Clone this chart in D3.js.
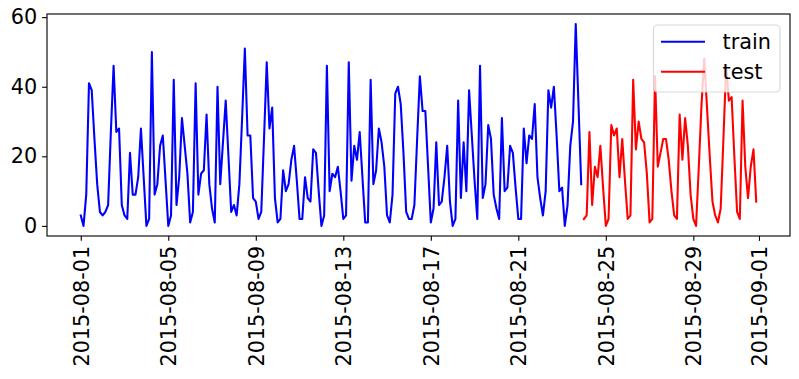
<!DOCTYPE html>
<html>
<head>
<meta charset="utf-8">
<script src="https://cdn.jsdelivr.net/npm/d3@7"></script>
<style>
  html, body { margin: 0; padding: 0; background: #fff; }
  svg { display: block; font-family: "DejaVu Sans", sans-serif; }
</style>
</head>
<body>
<svg id="chart" width="799" height="379"></svg>
<script>
// ---- data (3-hourly samples starting 2015-08-01 00:00) ----
const startDate = "2015-08-01T00:00:00Z";
const stepHours = 3;
const trainValues = [
  3,0,9,41,39,25,12,4, 3,4,6,27,46,27,28,6, 3,2,21,9,9,14,28,14,
  0,2,50,9,12,23,26,13, 0,3,42,6,14,31,23,15, 1,4,41,9,15,16,32,12,
  5,1,40,12,24,36,20,4, 6,3,12,31,51,26,26,8, 7,2,4,25,47,28,34,8,
  1,2,16,10,12,19,23,13, 2,2,14,8,7,22,21,10, 0,3,46,10,15,14,17,10,
  2,3,47,13,23,19,27,14, 1,1,42,12,16,28,24,17, 3,1,9,38,40,35,21,4,
  2,2,6,25,43,33,33,17, 1,5,24,6,7,14,23,7, 0,2,36,8,24,10,39,26,
  13,2,46,8,12,29,25,9, 5,2,31,10,11,23,21,11, 2,2,28,18,26,25,35,14,
  8,3,10,39,34,40,26,10, 11,0,6,23,30,58,35,12
];
const testValues = [
  2,3,27,6,17,14,23,11, 0,2,29,26,28,14,25,13, 2,3,42,22,30,25,24,15,
  1,2,43,17,21,25,25,19, 10,3,2,32,19,31,23,9, 2,0,17,35,48,34,20,7,
  3,1,5,25,46,36,37,20, 4,2,36,17,8,17,22,7
];
const seriesNames = ["train", "test"];
const seriesColors = ["#0000ff", "#ff0000"];
const xTickLabels = ["2015-08-01","2015-08-05","2015-08-09","2015-08-13","2015-08-17",
                     "2015-08-21","2015-08-25","2015-08-29","2015-09-01"];
const yTickValues = [0, 20, 40, 60];

(function () {
  // ---- build records ----
  const t0 = new Date(startDate).getTime();
  const H = 3600 * 1000;
  const train = trainValues.map((v, i) => ({ t: new Date(t0 + i * stepHours * H), v }));
  const test = testValues.map((v, i) => ({ t: new Date(t0 + (i + trainValues.length) * stepHours * H), v }));
  const all = train.concat(test);

  // ---- layout ----
  const svg = d3.select("#chart");
  const mLeft = 47, mRight = 790, mTop = 14, mBottom = 236;
  const tickLen = 4.86, tickPad = 4.86, fontSize = 20.8;

  const tExt = d3.extent(all, d => d.t.getTime());
  const tPad = (tExt[1] - tExt[0]) * 0.05;
  const x = d3.scaleUtc()
    .domain([new Date(tExt[0] - tPad), new Date(tExt[1] + tPad)])
    .range([mLeft, mRight]);
  const vExt = d3.extent(all, d => d.v);
  const vPad = (vExt[1] - vExt[0]) * 0.05;
  const y = d3.scaleLinear()
    .domain([vExt[0] - vPad, vExt[1] + vPad])
    .range([mBottom, mTop]);

  svg.append("rect").attr("width", 799).attr("height", 379).attr("fill", "#fff");

  // ---- lines ----
  const line = d3.line().x(d => x(d.t)).y(d => y(d.v));
  [train, test].forEach((s, k) => {
    svg.append("path")
      .datum(s)
      .attr("fill", "none")
      .attr("stroke", seriesColors[k])
      .attr("stroke-width", 2.08)
      .attr("stroke-linejoin", "round")
      .attr("stroke-linecap", "square")
      .attr("d", line);
  });

  // ---- axes ----
  const xTicks = xTickLabels.map(s => new Date(s + "T00:00:00Z"));
  const xAxis = d3.axisBottom(x)
    .tickValues(xTicks)
    .tickFormat(d3.utcFormat("%Y-%m-%d"))
    .tickSize(tickLen).tickPadding(tickPad).tickSizeOuter(0);
  const gx = svg.append("g").attr("transform", `translate(0,${mBottom})`).call(xAxis);
  gx.select(".domain").remove();
  gx.selectAll(".tick line").attr("stroke", "#000").attr("stroke-width", 1.11);
  gx.selectAll(".tick text")
    .attr("fill", "#000")
    .attr("font-size", fontSize)
    .attr("font-family", "DejaVu Sans")
    .attr("text-anchor", "end")
    .attr("y", 0)
    .attr("dy", "0.35em")
    .attr("transform", `translate(0,${tickLen + tickPad}) rotate(-90)`);

  const yAxis = d3.axisLeft(y)
    .tickValues(yTickValues)
    .tickFormat(d3.format("d"))
    .tickSize(tickLen).tickPadding(tickPad).tickSizeOuter(0);
  const gy = svg.append("g").attr("transform", `translate(${mLeft},0)`).call(yAxis);
  gy.select(".domain").remove();
  gy.selectAll(".tick line").attr("stroke", "#000").attr("stroke-width", 1.11);
  gy.selectAll(".tick text")
    .attr("fill", "#000")
    .attr("font-size", fontSize)
    .attr("font-family", "DejaVu Sans");

  // ---- spines ----
  svg.append("rect")
    .attr("x", mLeft).attr("y", mTop)
    .attr("width", mRight - mLeft).attr("height", mBottom - mTop)
    .attr("fill", "none").attr("stroke", "#000").attr("stroke-width", 1.11);

  // ---- legend ----
  const lg = svg.append("g");
  const lx = 653.5, ly = 25, lw = 126.5, lh = 67;
  lg.append("rect")
    .attr("x", lx).attr("y", ly).attr("width", lw).attr("height", lh)
    .attr("rx", 4).attr("ry", 4)
    .attr("fill", "#fff").attr("fill-opacity", 0.8)
    .attr("stroke", "#cccccc").attr("stroke-opacity", 0.8).attr("stroke-width", 1.11);
  seriesNames.forEach((name, k) => {
    const cy = 41.7 + k * 30;
    lg.append("line")
      .attr("x1", 661).attr("x2", 705).attr("y1", cy).attr("y2", cy)
      .attr("stroke", seriesColors[k]).attr("stroke-width", 2.08);
    lg.append("text")
      .attr("x", 722.5).attr("y", cy).attr("dy", "0.35em")
      .attr("font-size", fontSize).attr("font-family", "DejaVu Sans")
      .attr("fill", "#000")
      .text(name);
  });
})();
</script>
</body>
</html>
